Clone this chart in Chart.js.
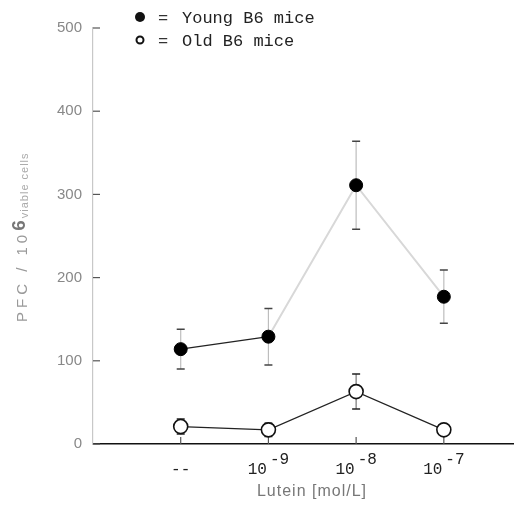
<!DOCTYPE html>
<html>
<head>
<meta charset="utf-8">
<script src="https://cdn.jsdelivr.net/npm/chart.js@4"></script>
<style>
  html, body { margin: 0; padding: 0; background: #fff; }
  #wrap { width: 514px; height: 510px; position: relative; }
</style>
</head>
<body>
<div id="wrap"><canvas id="chart"></canvas></div>
<script>
// ---- data ----
const categories = ["--", "10^-9", "10^-8", "10^-7"];
const tickBase = ["--", "10", "10", "10"];
const tickExp = ["", "-9", "-8", "-7"];
const yTicks = [0, 100, 200, 300, 400, 500];

const youngMean = [114, 129, 311, 177];
const youngErr = [24, 34, 53, 32];
const oldMean = [21, 17, 63, 17];
const oldErr = [9, 8, 21, 4];

const toPoints = (vals) => vals.map((v, i) => ({ x: i, y: v }));

// ---- error bars, ticks, legend, titles ----
const extrasPlugin = {
  id: "extras",
  beforeDatasetsDraw(chart) {
    const { ctx, scales } = chart;
    const xs = scales.x, ys = scales.y;
    const sets = [
      { mean: youngMean, err: youngErr, stem: "#bdbdbd", cap: "#444" },
      { mean: oldMean, err: oldErr, stem: "#777", cap: "#222" }
    ];
    ctx.save();
    sets.forEach((s) => {
      s.mean.forEach((m, i) => {
        const px = xs.getPixelForValue(i);
        const top = ys.getPixelForValue(m + s.err[i]);
        const bot = ys.getPixelForValue(m - s.err[i]);
        ctx.strokeStyle = s.stem;
        ctx.lineWidth = 1.2;
        ctx.beginPath();
        ctx.moveTo(px, top);
        ctx.lineTo(px, bot);
        ctx.stroke();
        ctx.strokeStyle = s.cap;
        ctx.lineWidth = 1.5;
        ctx.beginPath();
        ctx.moveTo(px - 4, top);
        ctx.lineTo(px + 4, top);
        ctx.moveTo(px - 4, bot);
        ctx.lineTo(px + 4, bot);
        ctx.stroke();
      });
    });

    // inward ticks
    ctx.strokeStyle = "#555";
    ctx.lineWidth = 1.2;
    yTicks.forEach((t) => {
      const py = ys.getPixelForValue(t);
      ctx.beginPath();
      ctx.moveTo(xs.left, py);
      ctx.lineTo(xs.left + 7, py);
      ctx.stroke();
    });
    categories.forEach((c, i) => {
      const px = xs.getPixelForValue(i);
      ctx.beginPath();
      ctx.moveTo(px, ys.bottom);
      ctx.lineTo(px, ys.bottom - 7);
      ctx.stroke();
    });
    ctx.restore();
  },
  afterDraw(chart) {
    const { ctx, scales } = chart;
    const xs = scales.x, ys = scales.y;
    ctx.save();

    // x tick labels with superscripts
    ctx.fillStyle = "#222";
    ctx.textBaseline = "alphabetic";
    const mono = "16px 'Liberation Mono', 'DejaVu Sans Mono', monospace";
    categories.forEach((c, i) => {
      const px = xs.getPixelForValue(i);
      ctx.font = mono;
      const wb = ctx.measureText(tickBase[i]).width;
      const we = tickExp[i] ? ctx.measureText(tickExp[i]).width + 3 : 0;
      const start = px - (wb + we) / 2;
      ctx.textAlign = "left";
      ctx.fillText(tickBase[i], start, ys.bottom + 30);
      if (tickExp[i]) {
        ctx.fillText(tickExp[i], start + wb + 3, ys.bottom + 20);
      }
    });

    // x title
    ctx.fillStyle = "#777";
    ctx.font = "16px 'Liberation Sans', Arial, sans-serif";
    ctx.letterSpacing = "1px";
    ctx.textAlign = "center";
    ctx.textBaseline = "middle";
    ctx.fillText("Lutein [mol/L]", 312, 492);

    // y title (rotated)
    ctx.translate(27, 322);
    ctx.rotate(-Math.PI / 2);
    ctx.textAlign = "left";
    ctx.textBaseline = "alphabetic";
    ctx.fillStyle = "#999";
    ctx.font = "15px 'Liberation Sans', Arial, sans-serif";
    ctx.letterSpacing = "4px";
    let x = 0;
    ctx.fillText("PFC / 10", x, 0);
    x += ctx.measureText("PFC / 10").width;
    ctx.fillStyle = "#777";
    ctx.font = "bold 19px 'Liberation Sans', Arial, sans-serif";
    ctx.letterSpacing = "0px";
    ctx.fillText("6", x, -2);
    x += ctx.measureText("6").width + 2;
    ctx.fillStyle = "#aaa";
    ctx.font = "11px 'Liberation Sans', Arial, sans-serif";
    ctx.letterSpacing = "1px";
    ctx.fillText("viable cells", x, 1);
    ctx.setTransform(1, 0, 0, 1, 0, 0);
    ctx.letterSpacing = "0px";

    // legend
    ctx.fillStyle = "#111";
    ctx.beginPath();
    ctx.arc(140, 17, 5, 0, Math.PI * 2);
    ctx.fill();
    ctx.strokeStyle = "#111";
    ctx.lineWidth = 2;
    ctx.beginPath();
    ctx.arc(140, 40, 3.5, 0, Math.PI * 2);
    ctx.stroke();
    ctx.font = "17px 'Liberation Mono', 'DejaVu Sans Mono', monospace";
    ctx.textAlign = "left";
    ctx.textBaseline = "middle";
    ctx.fillStyle = "#333";
    ctx.fillText("=", 158, 18);
    ctx.fillText("=", 158, 41);
    ctx.fillStyle = "#222";
    ctx.fillText("Young B6 mice", 182, 18);
    ctx.fillText("Old B6 mice", 182, 41);
    ctx.restore();
  }
};

// ---- chart ----
new Chart(document.getElementById("chart"), {
  type: "line",
  data: {
    datasets: [
      {
        label: "Young B6 mice",
        data: toPoints(youngMean),
        borderWidth: 2,
        borderColor: "#d8d8d8",
        segment: {
          borderColor: (ctx) => (ctx.p0DataIndex === 0 ? "#222" : "#d8d8d8"),
          borderWidth: (ctx) => (ctx.p0DataIndex === 0 ? 1.3 : 2)
        },
        pointRadius: 6.5,
        pointBackgroundColor: "#000",
        pointBorderColor: "#000",
        pointBorderWidth: 1
      },
      {
        label: "Old B6 mice",
        data: toPoints(oldMean),
        borderWidth: 1.2,
        borderColor: "#222",
        pointRadius: 7,
        pointBackgroundColor: "#fff",
        pointBorderColor: "#111",
        pointBorderWidth: 1.6
      }
    ]
  },
  options: {
    responsive: true,
    maintainAspectRatio: false,
    animation: false,
    layout: { autoPadding: false, padding: { top: 28, right: 0, left: 0, bottom: 0 } },
    plugins: {
      legend: { display: false },
      tooltip: { enabled: false }
    },
    scales: {
      x: {
        type: "linear",
        min: -1,
        max: 3.8,
        ticks: { display: false },
        grid: { display: false, drawTicks: false },
        border: { color: "#111", width: 1.5 },
        afterFit: (scale) => { scale.height = 66; }
      },
      y: {
        min: 0,
        max: 500,
        afterBuildTicks: (scale) => { scale.ticks = yTicks.map((v) => ({ value: v })); },
        ticks: {
          color: "#888",
          padding: 11,
          font: { family: "'Liberation Sans', Arial, sans-serif", size: 15 }
        },
        grid: { display: false, drawTicks: false },
        border: { color: "#c8c8c8", width: 1.2 },
        afterFit: (scale) => { scale.width = 93; }
      }
    }
  },
  plugins: [extrasPlugin]
});
</script>
</body>
</html>
